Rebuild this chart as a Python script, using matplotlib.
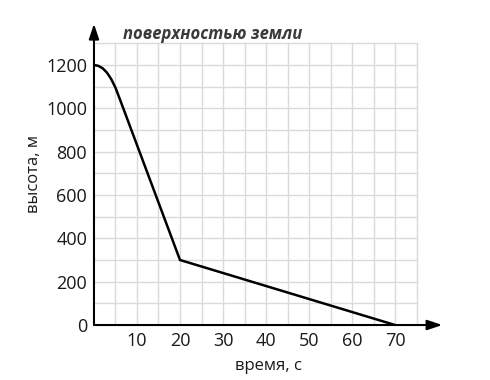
import matplotlib.pyplot as plt

# values
time_s = [0, 1, 2, 3, 4, 5, 6, 20, 70]
height_m = [1200, 1196, 1185, 1165, 1135, 1095, 1043, 300, 0]
x_ticks = [10, 20, 30, 40, 50, 60, 70]
y_ticks = [0, 200, 400, 600, 800, 1000, 1200]

plt.rcParams['font.family'] = ['Open Sans', 'DejaVu Sans']

fig = plt.figure(figsize=(4.9, 3.8), dpi=100)
ax = fig.add_axes([0.1918, 0.1447, 0.711, 0.7927])
ax.set_xlim(0, 81)
ax.set_ylim(0, 1390)

# grid only inside 0..75 x 0..1300
grid_c = '#dadada'
for gx in range(5, 80, 5):
    ax.plot([gx, gx], [0, 1300], color=grid_c, lw=1, zorder=1)
for gy in range(100, 1400, 100):
    ax.plot([0, 75], [gy, gy], color=grid_c, lw=1, zorder=1)

for s in ax.spines.values():
    s.set_visible(False)

# axes with arrows
arrow = dict(arrowstyle='-|>,head_length=0.9,head_width=0.3', color='black', lw=1.5,
             shrinkA=0, shrinkB=0)
ax.annotate('', xy=(81, 0), xytext=(0, 0), arrowprops=arrow, annotation_clip=False)
ax.annotate('', xy=(0, 1390), xytext=(0, 0), arrowprops=arrow, annotation_clip=False)

ax.plot(time_s, height_m, color='black', lw=1.8, zorder=3, solid_joinstyle='miter')

ax.set_xticks(x_ticks)
ax.set_yticks(y_ticks)
ax.tick_params(length=0, labelsize=13, pad=5, labelcolor='#1a1a1a')

ax.set_xlabel('время, с', fontsize=12, labelpad=6, color='#1a1a1a')
ax.set_ylabel('высота, м', fontsize=12, labelpad=3, color='#1a1a1a')

ax.text(6.7, 1345, 'поверхностью земли', fontsize=12, fontweight='bold',
        style='italic', color='#3a3a3a', va='center', ha='left')

fig.savefig('out.png', dpi=100)
